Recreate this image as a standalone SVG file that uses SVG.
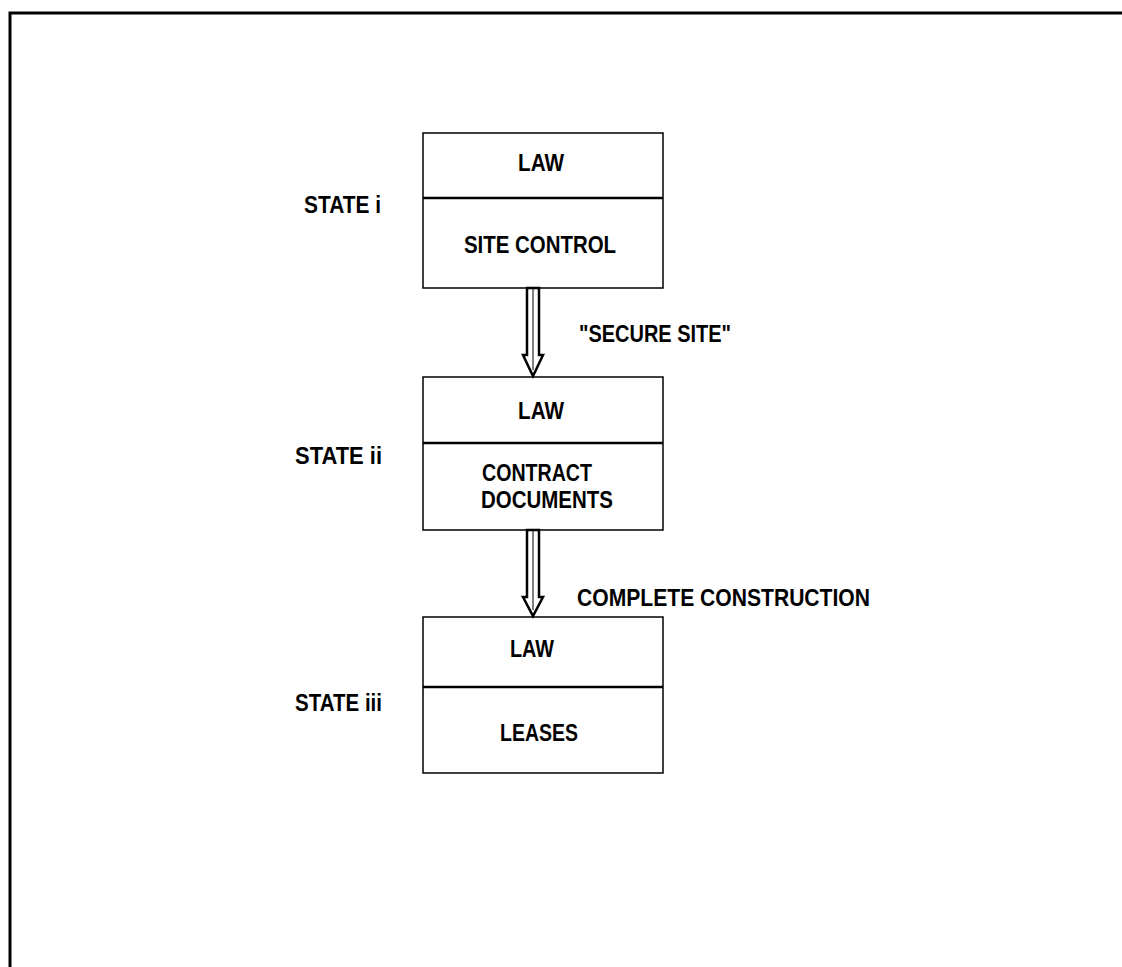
<svg xmlns="http://www.w3.org/2000/svg" width="1122" height="967" viewBox="0 0 1122 967">
<style>
.t{font-family:"Liberation Sans",Arial,sans-serif;font-weight:bold;font-size:23.5px;fill:#000}
.box{fill:#fff;stroke:#000;stroke-width:1.5}
.div{stroke:#000;stroke-width:2.5}
.arr{fill:#fff;stroke:#000;stroke-width:2.5;stroke-linejoin:miter}
.mid{stroke:#000;stroke-width:1}
.frame{fill:none;stroke:#000;stroke-width:3}
</style>
<rect width="1122" height="967" fill="#fff"/>
<path class="frame" d="M10,967 V13 H1122"/>
<g id="state1">
<text class="t" x="304" y="213" textLength="77" lengthAdjust="spacingAndGlyphs">STATE i</text>
<rect class="box" x="423" y="133" width="240" height="155"/>
<line class="div" x1="423" y1="198" x2="663" y2="198"/>
<text class="t" x="518" y="171" textLength="46" lengthAdjust="spacingAndGlyphs">LAW</text>
<text class="t" x="464" y="253" textLength="152" lengthAdjust="spacingAndGlyphs">SITE CONTROL</text>
</g>
<g id="state2">
<text class="t" x="295" y="464" textLength="87" lengthAdjust="spacingAndGlyphs">STATE ii</text>
<rect class="box" x="423" y="377" width="240" height="153"/>
<line class="div" x1="423" y1="443" x2="663" y2="443"/>
<text class="t" x="518" y="419" textLength="46" lengthAdjust="spacingAndGlyphs">LAW</text>
<text class="t" x="482" y="481" textLength="110" lengthAdjust="spacingAndGlyphs">CONTRACT</text>
<text class="t" x="481" y="508" textLength="132" lengthAdjust="spacingAndGlyphs">DOCUMENTS</text>
</g>
<g id="state3">
<text class="t" x="295" y="711" textLength="87" lengthAdjust="spacingAndGlyphs">STATE iii</text>
<rect class="box" x="423" y="617" width="240" height="156"/>
<line class="div" x1="423" y1="687" x2="663" y2="687"/>
<text class="t" x="510" y="657" textLength="44" lengthAdjust="spacingAndGlyphs">LAW</text>
<text class="t" x="500" y="741" textLength="78" lengthAdjust="spacingAndGlyphs">LEASES</text>
</g>
<g id="connectors">
<path class="arr" d="M527,288 V355 H523 L533,376 L543,355 H539 V288 Z"/>
<line class="mid" x1="533" y1="289" x2="533" y2="370"/>
<text class="t" x="579" y="342" textLength="152" lengthAdjust="spacingAndGlyphs">"SECURE SITE"</text>
<path class="arr" d="M527,530 V597 H523 L533,616 L543,597 H539 V530 Z"/>
<line class="mid" x1="533" y1="531" x2="533" y2="610"/>
<text class="t" x="577" y="606" textLength="293" lengthAdjust="spacingAndGlyphs">COMPLETE CONSTRUCTION</text>
</g>
</svg>
